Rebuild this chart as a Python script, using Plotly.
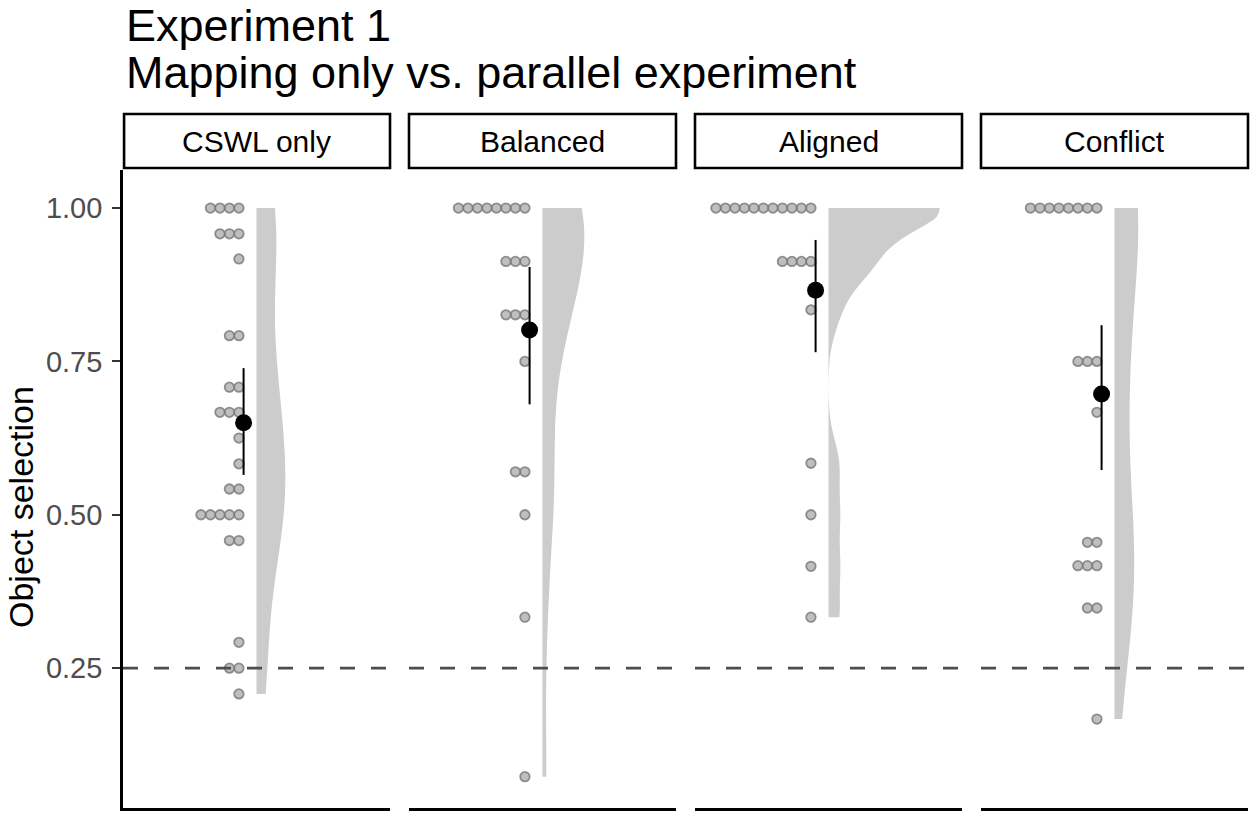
import numpy as np
import plotly.graph_objects as go
from plotly.subplots import make_subplots

# ---------------- data ----------------
conditions = ["CSWL only", "Balanced", "Aligned", "Conflict"]

cswl_values = [1.000, 0.958, 0.917, 0.792, 0.708, 0.667, 0.625, 0.583, 0.542, 0.500, 0.458, 0.292, 0.250, 0.208]
cswl_counts = [4, 3, 1, 2, 2, 3, 1, 1, 2, 5, 2, 1, 2, 1]

balanced_values = [1.000, 0.913, 0.826, 0.750, 0.570, 0.500, 0.333, 0.073]
balanced_counts = [8, 3, 3, 1, 2, 1, 1, 1]

aligned_values = [1.000, 0.913, 0.834, 0.584, 0.500, 0.416, 0.333]
aligned_counts = [11, 4, 1, 1, 1, 1, 1]

conflict_values = [1.000, 0.750, 0.667, 0.455, 0.417, 0.348, 0.167]
conflict_counts = [8, 3, 1, 2, 3, 2, 1]

means = [0.650, 0.801, 0.866, 0.697]
ci_low = [0.565, 0.680, 0.765, 0.573]
ci_high = [0.739, 0.904, 0.948, 0.809]

y_ticks = [0.25, 0.50, 0.75, 1.00]
y_tick_labels = ["0.25", "0.50", "0.75", "1.00"]
chance_level = 0.25

title_lines = ["Experiment 1", "Mapping only vs. parallel experiment"]
y_title = "Object selection"

# ---------------- style / layout ----------------
FONT = "Liberation Sans, Arial, Helvetica, sans-serif"
W, H = 1250, 814
L_M, R_M, T_M, B_M = 123, 2, 170, 6
PLOT_W = W - L_M - R_M
PLOT_H = H - T_M - B_M
panel_px = [(123, 390), (409, 676), (695, 962), (981, 1248)]
domains = [((a - L_M) / PLOT_W, (b - L_M) / PLOT_W) for a, b in panel_px]

X_RANGE = [0.4, 1.6]
Y_RANGE = [0.022, 1.062]
VIOLIN_POS = 1.0
MEAN_POS = 0.942
DOT_RIGHT = 0.921
DOT_STEP = 0.0427


def py2paper(py):
    return (H - B_M - py) / PLOT_H


def px2paper(px):
    return (px - L_M) / PLOT_W


panel_data = [
    (cswl_values, cswl_counts),
    (balanced_values, balanced_counts),
    (aligned_values, aligned_counts),
    (conflict_values, conflict_counts),
]

fig = make_subplots(rows=1, cols=4, shared_yaxes=False)

for i, (vals, cnts) in enumerate(panel_data):
    col = i + 1
    raw = np.repeat(np.array(vals, dtype=float), cnts)
    n = len(raw)
    sd = raw.std(ddof=1)
    q75, q25 = np.percentile(raw, [75, 25])
    lo = min(sd, (q75 - q25) / 1.34)
    if lo <= 0:
        lo = sd
    bw = 0.9 * lo * n ** (-0.2)

    fig.add_trace(
        go.Violin(
            y=raw, x0=VIOLIN_POS, side="positive", spanmode="hard",
            bandwidth=bw, points=False, fillcolor="#CCCCCC",
            line=dict(width=0, color="#CCCCCC"), scalemode="width",
            scalegroup="all", hoverinfo="skip", showlegend=False,
            box_visible=False, meanline_visible=False, opacity=1,
        ),
        row=1, col=col,
    )

    dx, dy = [], []
    for v, c in zip(vals, cnts):
        for k in range(c):
            dx.append(DOT_RIGHT - k * DOT_STEP)
            dy.append(v)
    fig.add_trace(
        go.Scatter(
            x=dx, y=dy, mode="markers", hoverinfo="skip", showlegend=False,
            marker=dict(size=9.5, color="rgba(170,170,170,0.75)",
                        line=dict(width=1.8, color="rgba(120,120,120,0.8)")),
        ),
        row=1, col=col,
    )

    m = means[i]
    fig.add_trace(
        go.Scatter(
            x=[MEAN_POS], y=[m], mode="markers", hoverinfo="skip", showlegend=False,
            marker=dict(size=17, color="black"),
            error_y=dict(type="data", symmetric=False, array=[ci_high[i] - m],
                         arrayminus=[m - ci_low[i]], thickness=2, width=0, color="black"),
        ),
        row=1, col=col,
    )

    fig.add_hline(y=chance_level, row=1, col=col,
                  line=dict(color="#4D4D4D", width=2.8, dash="15px,16px"))

    xname = "x" if i == 0 else f"x{col}"
    # strip box
    fig.add_shape(type="rect", xref=f"{xname} domain", yref="paper",
                  x0=0.004 if i == 0 else 0, x1=1, y0=py2paper(168), y1=py2paper(114),
                  line=dict(color="black", width=2.6), fillcolor="white", layer="above")
    fig.add_annotation(text=conditions[i], xref=f"{xname} domain", yref="paper",
                       x=0.5, y=py2paper(141), xanchor="center", yanchor="middle",
                       showarrow=False, font=dict(family=FONT, size=30, color="black"))

for i in range(4):
    col = i + 1
    fig.update_xaxes(domain=list(domains[i]), range=X_RANGE, type="linear",
                     showticklabels=False, ticks="", showgrid=False, zeroline=False,
                     showline=True, linecolor="black", linewidth=2.6, row=1, col=col)
    fig.update_yaxes(range=Y_RANGE, showgrid=False, zeroline=False,
                     row=1, col=col)
    if i == 0:
        fig.update_yaxes(showline=True, linecolor="black", linewidth=2.6,
                         ticks="outside", ticklen=8, tickwidth=2.4, tickcolor="#333333",
                         tickvals=y_ticks, ticktext=y_tick_labels,
                         ticklabelstandoff=4,
                         tickfont=dict(family=FONT, size=29, color="#4D4D4D"),
                         row=1, col=col)
    else:
        fig.update_yaxes(showline=False, showticklabels=False, ticks="",
                         row=1, col=col)

# titles
fig.add_annotation(text=title_lines[0], xref="paper", yref="paper",
                   x=px2paper(124), y=py2paper(25), xanchor="left", yanchor="middle",
                   showarrow=False, font=dict(family=FONT, size=45, color="black"))
fig.add_annotation(text=title_lines[1], xref="paper", yref="paper",
                   x=px2paper(124), y=py2paper(73), xanchor="left", yanchor="middle",
                   showarrow=False, font=dict(family=FONT, size=45, color="black"))
fig.add_annotation(text=y_title, xref="paper", yref="paper",
                   x=px2paper(21), y=py2paper(507), xanchor="center", yanchor="middle",
                   textangle=-90, showarrow=False,
                   font=dict(family=FONT, size=34, color="black"))

fig.update_layout(
    width=W, height=H,
    margin=dict(l=L_M, r=R_M, t=T_M, b=B_M, pad=0),
    paper_bgcolor="white", plot_bgcolor="white",
    violingap=0, violingroupgap=0, violinmode="overlay",
    showlegend=False,
    font=dict(family=FONT, color="black"),
)

fig.write_html("out.html")
